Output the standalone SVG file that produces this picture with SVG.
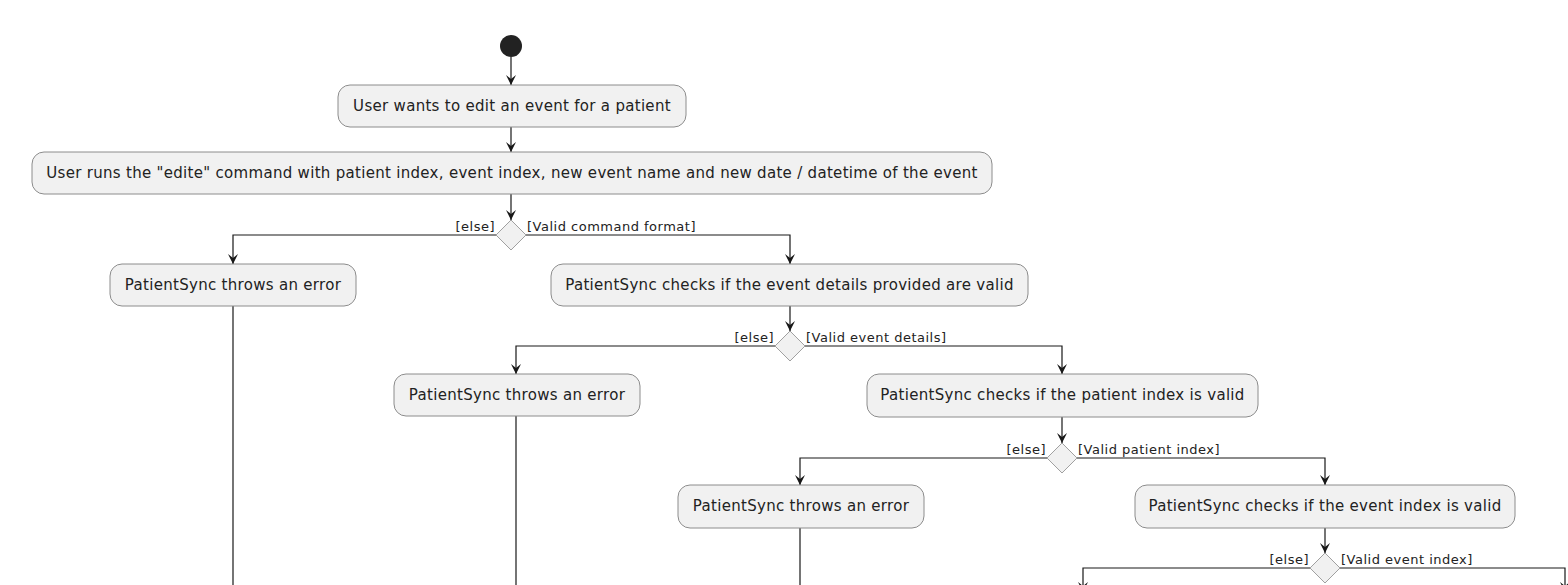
<svg xmlns="http://www.w3.org/2000/svg" width="1568" height="585" viewBox="0 0 1568 585">
<defs>
<marker id="ah" viewBox="0 0 12 12" refX="10" refY="6" markerWidth="12" markerHeight="12" markerUnits="userSpaceOnUse" orient="auto">
<path d="M0,1 L10,6 L0,11 L4,6 Z" fill="#181818"/>
</marker>
</defs>
<style>
.box{fill:#F1F1F1;stroke:#8c8c8c;stroke-width:1}
.dia{fill:#F1F1F1;stroke:#a0a0a0;stroke-width:1}
.t{font-family:"DejaVu Sans",sans-serif;font-size:15px;letter-spacing:0.3px;fill:#222;text-anchor:middle}
.l{font-family:"DejaVu Sans",sans-serif;font-size:13px;letter-spacing:0.5px;fill:#222}
.e{text-anchor:end}
.c{fill:none;stroke:#181818;stroke-width:1.2}
.a{marker-end:url(#ah)}
</style>
<rect width="1568" height="585" fill="#ffffff"/>
<g id="connectors">
<path class="c a" d="M511,57 V85"/>
<path class="c a" d="M511,127 V152"/>
<path class="c a" d="M511,194 V220"/>
<path class="c a" d="M496,235 H233 V264"/>
<path class="c a" d="M526,235 H790 V264"/>
<path class="c" d="M233,306 V585"/>
<path class="c a" d="M790,306 V331"/>
<path class="c a" d="M775,346 H516 V374"/>
<path class="c a" d="M805,346 H1062 V374"/>
<path class="c" d="M516,416 V585"/>
<path class="c a" d="M1062,417 V443"/>
<path class="c a" d="M1047,458 H800 V485"/>
<path class="c a" d="M1077,458 H1325 V485"/>
<path class="c" d="M800,528 V585"/>
<path class="c a" d="M1325,528 V553"/>
<path class="c a" d="M1310,568 H1083 V592"/>
<path class="c a" d="M1340,568 H1565 V592"/>
<text class="l e" x="495" y="231">[else]</text>
<text class="l" x="527" y="231">[Valid command format]</text>
<text class="l e" x="774" y="342">[else]</text>
<text class="l" x="806" y="342">[Valid event details]</text>
<text class="l e" x="1046" y="454">[else]</text>
<text class="l" x="1078" y="454">[Valid patient index]</text>
<text class="l e" x="1309" y="564">[else]</text>
<text class="l" x="1341" y="564">[Valid event index]</text>
</g>
<g id="start"><circle cx="511" cy="46" r="11" fill="#222222"/></g>
<g id="n1"><rect class="box" x="338" y="85" width="348" height="42" rx="12"/><text class="t" x="512" y="111">User wants to edit an event for a patient</text></g>
<g id="n2"><rect class="box" x="32" y="152" width="960" height="42" rx="12"/><text class="t" x="512" y="178">User runs the "edite" command with patient index, event index, new event name and new date / datetime of the event</text></g>
<g id="d1"><polygon class="dia" points="511,220 526,235 511,250 496,235"/></g>
<g id="n3"><rect class="box" x="110" y="264" width="246" height="42" rx="12"/><text class="t" x="233" y="290">PatientSync throws an error</text></g>
<g id="n4"><rect class="box" x="551" y="264" width="477" height="42" rx="12"/><text class="t" x="789.5" y="290">PatientSync checks if the event details provided are valid</text></g>
<g id="d2"><polygon class="dia" points="790,331 805,346 790,361 775,346"/></g>
<g id="n5"><rect class="box" x="394" y="374" width="246" height="42" rx="12"/><text class="t" x="517" y="400">PatientSync throws an error</text></g>
<g id="n6"><rect class="box" x="867" y="374" width="391" height="43" rx="12"/><text class="t" x="1062.5" y="400">PatientSync checks if the patient index is valid</text></g>
<g id="d3"><polygon class="dia" points="1062,443 1077,458 1062,473 1047,458"/></g>
<g id="n7"><rect class="box" x="678" y="485" width="246" height="43" rx="12"/><text class="t" x="801" y="511">PatientSync throws an error</text></g>
<g id="n8"><rect class="box" x="1135" y="485" width="380" height="43" rx="12"/><text class="t" x="1325" y="511">PatientSync checks if the event index is valid</text></g>
<g id="d4"><polygon class="dia" points="1325,553 1340,568 1325,583 1310,568"/></g>
</svg>
